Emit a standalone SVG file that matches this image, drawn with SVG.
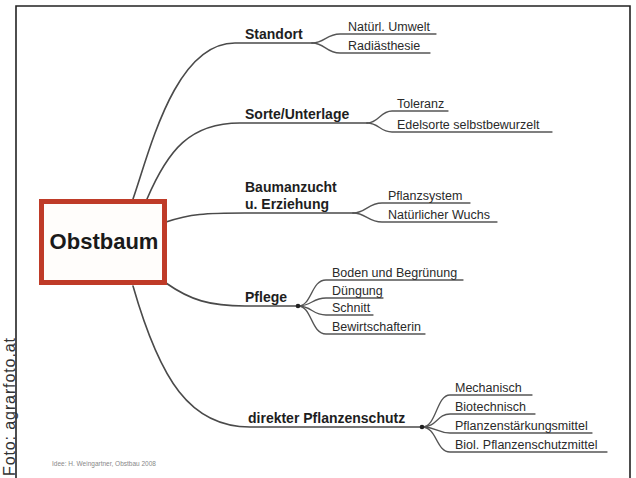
<svg xmlns="http://www.w3.org/2000/svg" width="636" height="478" viewBox="0 0 636 478">
<style>
  .main{font-family:"Liberation Sans",Arial,sans-serif;font-weight:bold;font-size:14px;fill:#1e1e1e}
  .sub{font-family:"Liberation Sans",Arial,sans-serif;font-size:12.5px;fill:#2a2a2a}
  .br{fill:none;stroke:#4a4a4a;stroke-width:1.6;stroke-linecap:round}
  .sb{fill:none;stroke:#555;stroke-width:1.3;stroke-linecap:round}
  .dot{fill:#222}
</style>
<rect x="0" y="0" width="636" height="478" fill="#ffffff"/>
<g id="frame">
  <path d="M16,480 L16,6 L630,6 L630,480" fill="none" stroke="#222" stroke-width="1.6"/>
</g>
<text id="credit" transform="translate(14.5,476) rotate(-90)" font-family="'Liberation Sans',Arial,sans-serif" font-size="16" textLength="138" lengthAdjust="spacing" fill="#333">Foto: agrarfoto.at</text>

<g id="connectors">
  <path class="br" d="M133,199 C150,150 175,43 235,43 L312,43"/>
  <path class="br" d="M147,199 C168,150 190,123 240,123 L367,123"/>
  <path class="br" d="M166,222 C190,214 205,213 245,213 L353,213"/>
  <path class="br" d="M166,283 C190,300 210,306 245,306 L298,306"/>
  <path class="br" d="M133,286 C160,380 190,427 250,427 L422,427"/>

  <path class="sb" d="M312,43 C325,43 326,34 340,34 L436,34"/>
  <path class="sb" d="M312,43 C325,43 326,53 340,53 L430,53"/>

  <path class="sb" d="M367,123 C379,123 380,111 392,111 L448,111"/>
  <path class="sb" d="M367,123 C379,123 380,132 392,132 L552,132"/>

  <path class="sb" d="M353,213 C366,213 368,203 382,203 L470,203"/>
  <path class="sb" d="M353,213 C366,213 368,222 382,222 L497,222"/>

  <path class="sb" d="M298,306 C312,306 311,280 326,280 L463,280"/>
  <path class="sb" d="M298,306 C312,306 312,298 326,298 L383,298"/>
  <path class="sb" d="M298,306 C312,306 312,315 326,315 L373,315"/>
  <path class="sb" d="M298,306 C312,306 311,334 326,334 L425,334"/>
  <circle class="dot" cx="298" cy="306" r="2.3"/>

  <path class="sb" d="M422,427 C437,427 436,395 450,395 L532,395"/>
  <path class="sb" d="M422,427 C437,427 437,414 450,414 L535,414"/>
  <path class="sb" d="M422,427 C437,427 437,433 450,433 L592,433"/>
  <path class="sb" d="M422,427 C437,427 436,452 450,452 L607,452"/>
  <circle class="dot" cx="422" cy="427" r="2.3"/>
</g>

<g id="obstbaum">
  <rect x="41.5" y="201.5" width="123" height="81" fill="#fffdfb" stroke="#bf3b28" stroke-width="5"/>
  <text x="104" y="249" text-anchor="middle" font-family="'Liberation Sans',Arial,sans-serif" font-weight="bold" font-size="22" fill="#1a1a1a">Obstbaum</text>
</g>

<g id="standort"><text class="main" x="245" y="39">Standort</text></g>
<g id="natuerl-umwelt"><text class="sub" x="348" y="31">Natürl. Umwelt</text></g>
<g id="radiaesthesie"><text class="sub" x="348" y="50">Radiästhesie</text></g>

<g id="sorte-unterlage"><text class="main" x="245" y="119">Sorte/Unterlage</text></g>
<g id="toleranz"><text class="sub" x="397" y="108">Toleranz</text></g>
<g id="edelsorte"><text class="sub" x="397" y="129">Edelsorte selbstbewurzelt</text></g>

<g id="baumanzucht"><text class="main" x="245" y="192">Baumanzucht</text><text class="main" x="245" y="209">u. Erziehung</text></g>
<g id="pflanzsystem"><text class="sub" x="388" y="200">Pflanzsystem</text></g>
<g id="natuerlicher-wuchs"><text class="sub" x="388" y="219">Natürlicher Wuchs</text></g>

<g id="pflege"><text class="main" x="245" y="302">Pflege</text></g>
<g id="boden"><text class="sub" x="332" y="277">Boden und Begrünung</text></g>
<g id="duengung"><text class="sub" x="332" y="295">Düngung</text></g>
<g id="schnitt"><text class="sub" x="332" y="312">Schnitt</text></g>
<g id="bewirtschafterin"><text class="sub" x="332" y="331">Bewirtschafterin</text></g>

<g id="pflanzenschutz"><text class="main" x="248" y="423">direkter Pflanzenschutz</text></g>
<g id="mechanisch"><text class="sub" x="455" y="392">Mechanisch</text></g>
<g id="biotechnisch"><text class="sub" x="455" y="411">Biotechnisch</text></g>
<g id="staerkungsmittel"><text class="sub" x="455" y="430">Pflanzenstärkungsmittel</text></g>
<g id="biol-schutzmittel"><text class="sub" x="455" y="449">Biol. Pflanzenschutzmittel</text></g>

<text id="footnote" x="52" y="466" font-family="'Liberation Sans',Arial,sans-serif" font-size="6.5" fill="#888">Idee: H. Weingartner, Obstbau 2008</text>
</svg>
